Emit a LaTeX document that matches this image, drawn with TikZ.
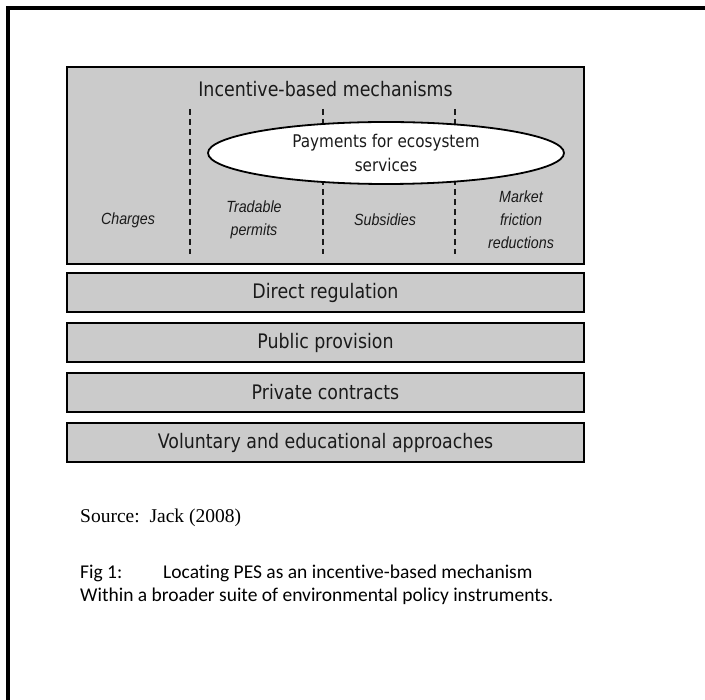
\documentclass[tikz,border=0pt]{standalone}
\usepackage{fontspec}
\setmainfont{Liberation Serif}
\newfontfamily\tahfont{DejaVu Sans}[FakeStretch=0.87]
\newfontfamily\arifont{Liberation Sans}[FakeStretch=0.88]
\newfontfamily\calfont{Carlito}[Ligatures=NoCommon]
\usetikzlibrary{shapes.geometric}
\definecolor{boxgray}{HTML}{CBCBCB}
\definecolor{inkgray}{HTML}{1A1A1A}
\begin{document}
\begin{tikzpicture}[x=1pt,y=-1pt,
  panel/.style={draw=black, line width=1.8pt, fill=boxgray},
  bandlabel/.style={font=\tahfont\fontsize{20}{23}\selectfont, text=inkgray, inner sep=0},
  sublabel/.style={font=\arifont\itshape\fontsize{16.2}{23}\selectfont, text=inkgray, align=center, inner sep=0},
  divider/.style={draw=inkgray, line width=1.2pt, dash pattern=on 6pt off 4pt},
  pesoval/.style={ellipse, draw=black, line width=1.8pt, fill=white, minimum width=356pt, minimum height=62pt, inner sep=0,
    align=center, font=\tahfont\fontsize{17.5}{24}\selectfont, text=inkgray},
  captext/.style={anchor=base west, inner sep=0}
]
\useasboundingbox (0,0) rectangle (705,700);
% outer frame
\draw[line width=4pt] (8,700) -- (8,8) -- (705,8);

% main incentive box
\draw[panel] (67,67) rectangle (584,264);
\node[bandlabel] (ibm) at (325.5,89) {Incentive-based mechanisms};

% dashed dividers
\coordinate (d1t) at (190,109); \coordinate (d1b) at (190,254);
\coordinate (d2t) at (323,109); \coordinate (d2b) at (323,254);
\coordinate (d3t) at (455,109); \coordinate (d3b) at (455,254);
\draw[divider] (d1t) -- (d1b);
\draw[divider] (d2t) -- (d2b);
\draw[divider] (d3t) -- (d3b);

% PES ellipse
\node[pesoval] (pes) at (386,153) {Payments for ecosystem\\services};

% sub-category labels
\node[sublabel] (charges) at (128,220) {Charges};
\node[sublabel] (tradable) at (254,220) {Tradable\\permits};
\node[sublabel] (subsidies) at (385,220) {Subsidies};
\node[sublabel] (market) at (521,220) {Market\\friction\\reductions};

% lower bands
\draw[panel] (67,273) rectangle (584,312);
\node[bandlabel] (dr) at (325.5,292.5) {Direct regulation};
\draw[panel] (67,323) rectangle (584,362);
\node[bandlabel] (pp) at (325.5,342.5) {Public provision};
\draw[panel] (67,373) rectangle (584,412);
\node[bandlabel] (pc) at (325.5,392.5) {Private contracts};
\draw[panel] (67,423) rectangle (584,462);
\node[bandlabel] (ve) at (325.5,442.5) {Voluntary and educational approaches};

% captions
\node[captext, font=\fontsize{19.5}{23}\selectfont] (src) at (80,523) {Source:\ \ Jack (2008)};
\node[captext, font=\calfont\fontsize{19.5}{23}\selectfont] (fig) at (80,579) {Fig 1:};
\node[captext, font=\calfont\fontsize{19.5}{23}\selectfont] (cap1) at (163,579) {Locating PES as an incentive-based mechanism};
\node[captext, font=\calfont\fontsize{19.5}{23}\selectfont] (cap2) at (80,602) {Within a broader suite of environmental policy instruments.};
\end{tikzpicture}
\end{document}
